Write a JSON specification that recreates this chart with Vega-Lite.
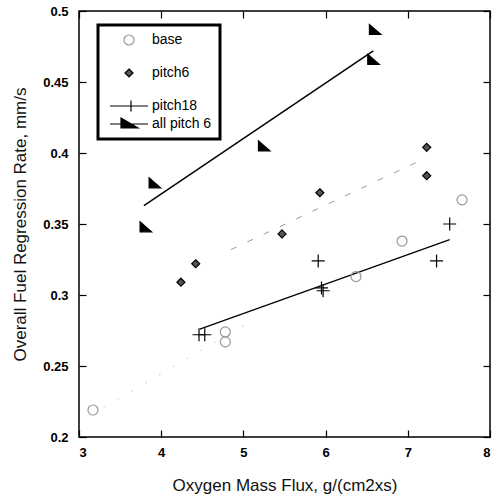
{
  "$schema": "https://vega.github.io/schema/vega-lite/v6.json",
  "autosize": "none",
  "width": 411,
  "height": 426,
  "padding": {"left": 79, "top": 11, "right": 9, "bottom": 62},
  "background": "white",
  "config": {
    "view": {"stroke": "black", "strokeWidth": 1.5},
    "legend": {"strokeWidth": 3},
    "axis": {
      "domain": false,
      "grid": false,
      "tickColor": "black",
      "tickWidth": 1.2,
      "tickSize": 7,
      "labelFont": "Liberation Sans",
      "labelFontSize": 13,
      "labelFontWeight": "bold",
      "labelColor": "black",
      "titleFont": "Liberation Sans",
      "titleFontSize": 17,
      "titleFontWeight": "normal",
      "titleColor": "#111"
    }
  },
  "datasets": {
    "pts": [
      {"series": "base", "x": 3.17, "y": 0.219},
      {"series": "base", "x": 4.78, "y": 0.274},
      {"series": "base", "x": 4.78, "y": 0.267},
      {"series": "base", "x": 6.37, "y": 0.313},
      {"series": "base", "x": 6.93, "y": 0.338},
      {"series": "base", "x": 7.66, "y": 0.367},
      {"series": "pitch6", "x": 4.24, "y": 0.309},
      {"series": "pitch6", "x": 4.42, "y": 0.322},
      {"series": "pitch6", "x": 5.47, "y": 0.343},
      {"series": "pitch6", "x": 5.93, "y": 0.372},
      {"series": "pitch6", "x": 7.23, "y": 0.404},
      {"series": "pitch6", "x": 7.23, "y": 0.384},
      {"series": "pitch18", "x": 4.46, "y": 0.272},
      {"series": "pitch18", "x": 4.53, "y": 0.272},
      {"series": "pitch18", "x": 5.91, "y": 0.324},
      {"series": "pitch18", "x": 5.95, "y": 0.305},
      {"series": "pitch18", "x": 5.97, "y": 0.303},
      {"series": "pitch18", "x": 7.35, "y": 0.324},
      {"series": "pitch18", "x": 7.51, "y": 0.35},
      {"series": "all pitch 6", "x": 3.81, "y": 0.348},
      {"series": "all pitch 6", "x": 3.92, "y": 0.379},
      {"series": "all pitch 6", "x": 5.25, "y": 0.405},
      {"series": "all pitch 6", "x": 6.58, "y": 0.466},
      {"series": "all pitch 6", "x": 6.6, "y": 0.487}
    ],
    "fits": [
      {"fit": "all pitch 6", "x": 3.79, "y": 0.363},
      {"fit": "all pitch 6", "x": 6.58, "y": 0.472},
      {"fit": "pitch18", "x": 4.47, "y": 0.276},
      {"fit": "pitch18", "x": 7.51, "y": 0.339},
      {"fit": "pitch6", "x": 4.85, "y": 0.332},
      {"fit": "pitch6", "x": 7.2, "y": 0.396},
      {"fit": "base", "x": 3.3, "y": 0.221},
      {"fit": "base", "x": 5.05, "y": 0.28}
    ]
  },
  "encoding": {
    "x": {"field": "x", "type": "quantitative", "axis": null, "scale": {"domain": [3, 8], "nice": false, "zero": false}},
    "y": {"field": "y", "type": "quantitative", "axis": null, "scale": {"domain": [0.2, 0.5], "nice": false, "zero": false}}
  },
  "layer": [
    {
      "data": {"name": "fits"},
      "transform": [{"filter": "datum.fit == 'base'"}],
      "mark": {"type": "line", "color": "#c8c8c8", "strokeWidth": 1, "strokeDash": [2, 14]},
      "encoding": {
        "x": {"field": "x", "type": "quantitative", "axis": {"orient": "top", "offset": -7, "values": [3, 4, 5, 6, 7, 8], "labels": false, "title": null}},
        "y": {"field": "y", "type": "quantitative", "axis": {"orient": "right", "offset": -7, "values": [0.2, 0.25, 0.3, 0.35, 0.4, 0.45, 0.5], "labels": false, "title": null}}
      }
    },
    {
      "data": {"name": "fits"},
      "transform": [{"filter": "datum.fit == 'pitch6'"}],
      "mark": {"type": "line", "color": "#9a9a9a", "strokeWidth": 1, "strokeDash": [6, 12]},
      "encoding": {}
    },
    {
      "data": {"name": "fits"},
      "transform": [{"filter": "datum.fit == 'pitch18'"}],
      "mark": {"type": "line", "color": "black", "strokeWidth": 1.2},
      "encoding": {}
    },
    {
      "data": {"name": "fits"},
      "transform": [{"filter": "datum.fit == 'all pitch 6'"}],
      "mark": {"type": "line", "color": "black", "strokeWidth": 1.5},
      "encoding": {}
    },
    {
      "data": {"name": "pts"},
      "mark": {"type": "point", "opacity": 1, "size": 100, "strokeWidth": 1.2},
      "encoding": {
        "x": {"field": "x", "type": "quantitative", "axis": {"orient": "bottom", "offset": -7, "values": [3, 4, 5, 6, 7, 8], "labelPadding": 9, "titlePadding": 18, "title": "Oxygen Mass Flux, g/(cm2xs)"}},
        "y": {"field": "y", "type": "quantitative", "axis": {"orient": "left", "offset": -7, "values": [0.2, 0.25, 0.3, 0.35, 0.4, 0.45, 0.5], "format": ".2~f", "labelPadding": 11, "titlePadding": 13, "title": "Overall Fuel Regression Rate, mm/s"}},
        "shape": {
          "field": "series", "type": "nominal", "legend": null,
          "scale": {
            "domain": ["base", " ", "pitch6", "  ", "pitch18", "all pitch 6"],
            "range": ["circle", "circle", "M0,-0.8L0.8,0L0,0.8L-0.8,0Z", "circle", "M-1.3,0H1.3M0,-1.3V1.3", "M-1.1,-1L-1.1,1L1.2,1Z"]
          }
        },
        "fill": {
          "field": "series", "type": "nominal", "legend": null,
          "scale": {
            "domain": ["base", " ", "pitch6", "  ", "pitch18", "all pitch 6"],
            "range": ["transparent", "transparent", "#555555", "transparent", "transparent", "black"]
          }
        },
        "stroke": {
          "field": "series", "type": "nominal", "legend": null,
          "scale": {
            "domain": ["base", " ", "pitch6", "  ", "pitch18", "all pitch 6"],
            "range": ["#999999", "transparent", "black", "transparent", "black", "black"]
          }
        }
      }
    },
    {
      "data": {"name": "pts"},
      "transform": [{"filter": "datum.y > 1"}],
      "mark": {"type": "point", "opacity": 1, "size": 100, "strokeWidth": 1.2},
      "encoding": {
        "shape": {
          "field": "series", "type": "nominal",
          "scale": {
            "domain": ["base", " ", "pitch6", "  ", "pitch18", "all pitch 6"],
            "range": ["circle", "circle", "M0,-0.8L0.8,0L0,0.8L-0.8,0Z", "circle", "M-3.8,0H3.8M0.4,-1.1V1.1", "M-3.8,0H3.8M-1.6,-1.2L-1.6,0.8L1.8,0.8Z"]
          },
          "legend": {
            "orient": "none", "legendX": 19, "legendY": 14, "title": null, "padding": 8, "rowPadding": 1,
            "symbolOffset": 16, "labelOffset": 16, "symbolSize": 100, "symbolStrokeWidth": 1.2,
            "labelFont": "Liberation Sans", "labelFontSize": 14, "strokeColor": "black"
          }
        },
        "fill": {
          "field": "series", "type": "nominal",
          "scale": {
            "domain": ["base", " ", "pitch6", "  ", "pitch18", "all pitch 6"],
            "range": ["transparent", "transparent", "#555555", "transparent", "transparent", "black"]
          },
          "legend": {
            "orient": "none", "legendX": 19, "legendY": 14, "title": null, "padding": 8, "rowPadding": 1,
            "symbolOffset": 16, "labelOffset": 16, "symbolSize": 100, "symbolStrokeWidth": 1.2,
            "labelFont": "Liberation Sans", "labelFontSize": 14, "strokeColor": "black"
          }
        },
        "stroke": {
          "field": "series", "type": "nominal",
          "scale": {
            "domain": ["base", " ", "pitch6", "  ", "pitch18", "all pitch 6"],
            "range": ["#999999", "transparent", "black", "transparent", "black", "black"]
          },
          "legend": {
            "orient": "none", "legendX": 19, "legendY": 14, "title": null, "padding": 8, "rowPadding": 1,
            "symbolOffset": 16, "labelOffset": 16, "symbolSize": 100, "symbolStrokeWidth": 1.2,
            "labelFont": "Liberation Sans", "labelFontSize": 14, "strokeColor": "black"
          }
        }
      }
    }
  ],
  "resolve": {
    "axis": {"x": "independent", "y": "independent"},
    "scale": {"shape": "independent", "fill": "independent", "stroke": "independent"}
  }
}
